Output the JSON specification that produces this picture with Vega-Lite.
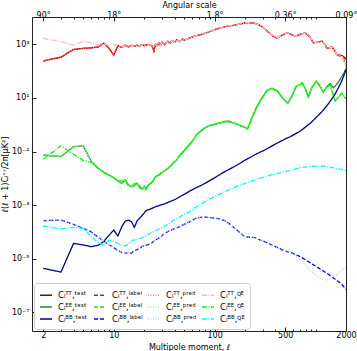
{
"$schema": "https://vega.github.io/schema/vega-lite/v6.json",
"width": 314, "height": 314,
"autosize": {"type": "none"},
"padding": {"left": 32, "top": 17, "right": 11, "bottom": 20},
"config": {
  "font": "DejaVu Sans",
  "view": {"stroke": "#222222", "strokeWidth": 1},
  "axis": {"labelFontSize": 8, "titleFontSize": 8, "titleFontWeight": "normal", "labelColor": "#000000", "titleColor": "#000000", "tickColor": "#222222", "domain": false, "grid": false, "labelOverlap": false, "labelFlush": false}
},
"resolve": {"axis": {"x": "independent"}},
"layer": [
{
  "data": {"values": [
    {"l":2,"TT test":240,"TT label":240,"TT pred":240,"TT QE":1660},
    {"l":3,"TT test":331,"TT label":331,"TT pred":331,"TT QE":1259},
    {"l":4,"TT test":646,"TT label":646,"TT pred":646,"TT QE":933},
    {"l":5,"TT test":708,"TT label":708,"TT pred":708,"TT QE":1318},
    {"l":6,"TT test":741,"TT label":741,"TT pred":741,"TT QE":1122},
    {"l":7,"TT test":794,"TT label":794,"TT pred":794,"TT QE":933},
    {"l":8,"TT test":1122,"TT label":1122,"TT pred":1122,"TT QE":1047},
    {"l":9,"TT test":708,"TT label":708,"TT pred":708,"TT QE":933},
    {"l":10,"TT test":398,"TT label":398,"TT pred":398,"TT QE":955},
    {"l":11,"TT test":891,"TT label":891,"TT pred":891,"TT QE":912},
    {"l":12,"TT test":776,"TT label":776,"TT pred":776,"TT QE":800},
    {"l":13,"TT test":933,"TT label":933,"TT pred":933,"TT QE":920},
    {"l":14,"TT test":813,"TT label":813,"TT pred":813,"TT QE":830},
    {"l":15,"TT test":912,"TT label":912,"TT pred":912,"TT QE":900},
    {"l":16,"TT test":851,"TT label":851,"TT pred":851,"TT QE":860},
    {"l":17,"TT test":933,"TT label":933,"TT pred":933,"TT QE":930},
    {"l":18,"TT test":851,"TT label":851,"TT pred":851,"TT QE":870},
    {"l":19,"TT test":977,"TT label":977,"TT pred":977,"TT QE":960},
    {"l":20,"TT test":891,"TT label":891,"TT pred":891,"TT QE":900},
    {"l":21,"TT test":955,"TT label":955,"TT pred":955,"TT QE":955},
    {"l":22,"TT test":912,"TT label":912,"TT pred":912,"TT QE":912},
    {"l":23,"TT test":977,"TT label":977,"TT pred":977,"TT QE":977},
    {"l":24,"TT test":851,"TT label":851,"TT pred":851,"TT QE":851},
    {"l":25,"TT test":562,"TT label":562,"TT pred":562,"TT QE":851},
    {"l":26,"TT test":1000,"TT label":1000,"TT pred":1000,"TT QE":1000},
    {"l":27,"TT test":871,"TT label":871,"TT pred":871,"TT QE":871},
    {"l":28,"TT test":1148,"TT label":1148,"TT pred":1148,"TT QE":1148},
    {"l":29,"TT test":912,"TT label":912,"TT pred":912,"TT QE":912},
    {"l":30,"TT test":1202,"TT label":1202,"TT pred":1202,"TT QE":1202},
    {"l":32,"TT test":977,"TT label":977,"TT pred":977,"TT QE":977},
    {"l":34,"TT test":1318,"TT label":1318,"TT pred":1318,"TT QE":1318},
    {"l":36,"TT test":1096,"TT label":1096,"TT pred":1096,"TT QE":1096},
    {"l":38,"TT test":1380,"TT label":1380,"TT pred":1380,"TT QE":1380},
    {"l":40,"TT test":1202,"TT label":1202,"TT pred":1202,"TT QE":1202},
    {"l":42,"TT test":1479,"TT label":1479,"TT pred":1479,"TT QE":1479},
    {"l":45,"TT test":1259,"TT label":1259,"TT pred":1259,"TT QE":1259},
    {"l":48,"TT test":1585,"TT label":1585,"TT pred":1585,"TT QE":1585},
    {"l":50,"TT test":1445,"TT label":1445,"TT pred":1445,"TT QE":1445},
    {"l":55,"TT test":1660,"TT label":1660,"TT pred":1660,"TT QE":1660},
    {"l":60,"TT test":1905,"TT label":1905,"TT pred":1905,"TT QE":1905},
    {"l":70,"TT test":2239,"TT label":2239,"TT pred":2239,"TT QE":2239},
    {"l":80,"TT test":2570,"TT label":2570,"TT pred":2570,"TT QE":2570},
    {"l":90,"TT test":3020,"TT label":3020,"TT pred":3020,"TT QE":3020},
    {"l":100,"TT test":3548,"TT label":3548,"TT pred":3548,"TT QE":3548},
    {"l":126,"TT test":4571,"TT label":4571,"TT pred":4571,"TT QE":4571},
    {"l":160,"TT test":5248,"TT label":5248,"TT pred":5248,"TT QE":5248},
    {"l":200,"TT test":6310,"TT label":6310,"TT pred":6310,"TT QE":6310},
    {"l":220,"TT test":6457,"TT label":6457,"TT pred":6457,"TT QE":6457},
    {"l":245,"TT test":6166,"TT label":6166,"TT pred":6166,"TT QE":6166},
    {"l":272,"TT test":5495,"TT label":5495,"TT pred":5495,"TT QE":5495},
    {"l":300,"TT test":4365,"TT label":4365,"TT pred":4365,"TT QE":4365},
    {"l":340,"TT test":2884,"TT label":2884,"TT pred":2884,"TT QE":2884},
    {"l":380,"TT test":1995,"TT label":1995,"TT pred":1995,"TT QE":1995},
    {"l":413,"TT test":1738,"TT label":1738,"TT pred":1738,"TT QE":1738},
    {"l":460,"TT test":2138,"TT label":2138,"TT pred":2138,"TT QE":2138},
    {"l":520,"TT test":2692,"TT label":2692,"TT pred":2692,"TT QE":2692},
    {"l":570,"TT test":2399,"TT label":2399,"TT pred":2399,"TT QE":2399},
    {"l":628,"TT test":1995,"TT label":1995,"TT pred":1995,"TT QE":1995},
    {"l":700,"TT test":2344,"TT label":2344,"TT pred":2344,"TT QE":2344},
    {"l":790,"TT test":2630,"TT label":2630,"TT pred":2630,"TT QE":2630},
    {"l":870,"TT test":1995,"TT label":1995,"TT pred":1995,"TT QE":1995},
    {"l":950,"TT test":1148,"TT label":1148,"TT pred":1148,"TT QE":1148},
    {"l":1050,"TT test":1202,"TT label":1202,"TT pred":1202,"TT QE":1202},
    {"l":1156,"TT test":1318,"TT label":1318,"TT pred":1318,"TT QE":1318},
    {"l":1230,"TT test":1000,"TT label":1000,"TT pred":1000,"TT QE":1000},
    {"l":1300,"TT test":708,"TT label":708,"TT pred":708,"TT QE":708},
    {"l":1380,"TT test":759,"TT label":759,"TT pred":759,"TT QE":759},
    {"l":1457,"TT test":794,"TT label":794,"TT pred":794,"TT QE":794},
    {"l":1550,"TT test":562,"TT label":562,"TT pred":562,"TT QE":562},
    {"l":1635,"TT test":389,"TT label":389,"TT pred":389,"TT QE":389},
    {"l":1730,"TT test":398,"TT label":372,"TT pred":372,"TT QE":372},
    {"l":1830,"TT test":380,"TT label":355,"TT pred":355,"TT QE":355},
    {"l":1920,"TT test":331,"TT label":263,"TT pred":224,"TT QE":240},
    {"l":2000,"TT test":282,"TT label":200,"TT pred":141,"TT QE":158}
  ]},
  "transform": [{"fold": ["TT test","TT label","TT pred","TT QE"], "as": ["series","value"]}],
  "mark": {"type": "line", "strokeWidth": 1.3, "clip": true},
  "encoding": {
    "x": {"field": "l", "type": "quantitative", "scale": {"type": "log", "domain": [1.55, 2000], "nice": false},
      "axis": {"orient": "bottom", "values": [2,3,4,5,6,7,8,9,10,20,30,40,50,60,70,80,90,100,200,300,400,500,600,700,800,900,1000,2000],
        "labelExpr": "indexof([2,10,100,500,2000], datum.value) >= 0 ? datum.value + '' : ''",
        "tickSize": {"condition": {"test": "indexof([2,10,100,500,2000], datum.value) >= 0", "value": -4}, "value": -2},
        "labelPadding": 4, "title": "Multipole moment, ℓ", "titlePadding": 2}},
    "y": {"field": "value", "type": "quantitative", "scale": {"type": "log", "domain": [2e-8, 10500], "nice": false},
      "axis": {"values": [1e-7, 1e-5, 0.001, 0.1, 10, 1000],
        "labelExpr": "datum.value > 100 ? '10³' : datum.value > 1 ? '10¹' : datum.value > 0.01 ? '10⁻¹' : datum.value > 0.0001 ? '10⁻³' : datum.value > 0.000001 ? '10⁻⁵' : '10⁻⁷'",
        "tickSize": -4, "labelPadding": 7, "title": "ℓ(ℓ + 1)Cₗˣʸ/2π[μK²]", "titlePadding": 2}},
    "color": {"field": "series", "type": "nominal",
      "scale": {"domain": ["TT test","EE test","BB test","TT label","EE label","BB label","TT pred","EE pred","BB pred","TT QE","EE QE","BB QE"],
        "range": ["#8b0000","#228b22","#00008b","#ff0000","#32cd32","#0000ff","#f08080","#98fb98","#add8e6","#ffb6c1","#00ff00","#00ffff"]},
      "legend": {"title": null, "orient": "bottom-left", "offset": 2, "columns": 4, "symbolType": "stroke", "symbolSize": 144, "symbolStrokeWidth": 1.5,
        "labelFontSize": 8.5, "labelOffset": 5, "rowPadding": 0, "columnPadding": 2, "padding": 5, "fillColor": "white", "strokeColor": "#cccccc", "cornerRadius": 3, "gridAlign": "all",
        "labelExpr": "'Cₗ' + (indexof(datum.label,'TT')==0 ? 'ᵀᵀ' : indexof(datum.label,'EE')==0 ? 'ᴱᴱ' : 'ᴮᴮ') + ',' + (indexof(datum.label,'test')>0 ? 'ᵗᵉˢᵗ' : indexof(datum.label,'label')>0 ? 'ˡᵃᵇᵉˡ' : indexof(datum.label,'pred')>0 ? 'ᵖʳᵉᵈ' : 'ꟴᴱ')"}},
    "strokeDash": {"field": "series", "type": "nominal",
      "scale": {"domain": ["TT test","EE test","BB test","TT label","EE label","BB label","TT pred","EE pred","BB pred","TT QE","EE QE","BB QE"],
        "range": [[1,0],[1,0],[1,0],[4,2],[4,2],[4,2],[1,1.5],[1,1.5],[1,1.5],[5,1.5,1,1.5],[5,1.5,1,1.5],[5,1.5,1,1.5]]}}
  }
},
{
  "data": {"values": [
    {"l":2,"EE test":0.0741,"EE label":0.0741,"EE pred":0.0741,"EE QE":0.0513},
    {"l":3,"EE test":0.0646,"EE label":0.0646,"EE pred":0.0646,"EE QE":0.162},
    {"l":4,"EE test":0.151,"EE label":0.151,"EE pred":0.151,"EE QE":0.0794},
    {"l":5,"EE test":0.162,"EE label":0.162,"EE pred":0.162,"EE QE":0.0457},
    {"l":6,"EE test":0.0417,"EE label":0.0417,"EE pred":0.0417,"EE QE":0.0398},
    {"l":7,"EE test":0.024,"EE label":0.024,"EE pred":0.024,"EE QE":0.024},
    {"l":8,"EE test":0.0166,"EE label":0.0166,"EE pred":0.0166,"EE QE":0.0166},
    {"l":9,"EE test":0.0132,"EE label":0.0132,"EE pred":0.0132,"EE QE":0.0132},
    {"l":10,"EE test":0.0105,"EE label":0.0105,"EE pred":0.0105,"EE QE":0.0105},
    {"l":11,"EE test":0.00794,"EE label":0.00794,"EE pred":0.00794,"EE QE":0.00794},
    {"l":12,"EE test":0.00646,"EE label":0.00646,"EE pred":0.00646,"EE QE":0.00794},
    {"l":13,"EE test":0.00871,"EE label":0.00871,"EE pred":0.00871,"EE QE":0.00871},
    {"l":14,"EE test":0.00562,"EE label":0.00562,"EE pred":0.00562,"EE QE":0.00501},
    {"l":15,"EE test":0.0049,"EE label":0.0049,"EE pred":0.0049,"EE QE":0.0049},
    {"l":16,"EE test":0.00631,"EE label":0.00631,"EE pred":0.00631,"EE QE":0.00525},
    {"l":17,"EE test":0.00646,"EE label":0.00646,"EE pred":0.00646,"EE QE":0.00646},
    {"l":18,"EE test":0.00447,"EE label":0.00447,"EE pred":0.00447,"EE QE":0.00562},
    {"l":19,"EE test":0.00389,"EE label":0.00389,"EE pred":0.00389,"EE QE":0.00389},
    {"l":20,"EE test":0.00501,"EE label":0.00501,"EE pred":0.00501,"EE QE":0.00398},
    {"l":21,"EE test":0.0038,"EE label":0.0038,"EE pred":0.0038,"EE QE":0.00447},
    {"l":22,"EE test":0.00562,"EE label":0.00562,"EE pred":0.00562,"EE QE":0.00562},
    {"l":24,"EE test":0.00708,"EE label":0.00708,"EE pred":0.00708,"EE QE":0.00708},
    {"l":26,"EE test":0.0115,"EE label":0.0115,"EE pred":0.0115,"EE QE":0.0115},
    {"l":28,"EE test":0.0132,"EE label":0.0132,"EE pred":0.0132,"EE QE":0.0132},
    {"l":30,"EE test":0.0166,"EE label":0.0166,"EE pred":0.0166,"EE QE":0.0166},
    {"l":33,"EE test":0.0209,"EE label":0.0209,"EE pred":0.0209,"EE QE":0.0209},
    {"l":36,"EE test":0.0269,"EE label":0.0269,"EE pred":0.0269,"EE QE":0.0269},
    {"l":39,"EE test":0.038,"EE label":0.038,"EE pred":0.038,"EE QE":0.038},
    {"l":42,"EE test":0.0479,"EE label":0.0479,"EE pred":0.0479,"EE QE":0.0479},
    {"l":45,"EE test":0.0708,"EE label":0.0708,"EE pred":0.0708,"EE QE":0.0708},
    {"l":49,"EE test":0.1,"EE label":0.1,"EE pred":0.1,"EE QE":0.1},
    {"l":53,"EE test":0.141,"EE label":0.141,"EE pred":0.141,"EE QE":0.141},
    {"l":57,"EE test":0.191,"EE label":0.191,"EE pred":0.191,"EE QE":0.191},
    {"l":62,"EE test":0.282,"EE label":0.282,"EE pred":0.282,"EE QE":0.282},
    {"l":66,"EE test":0.417,"EE label":0.417,"EE pred":0.417,"EE QE":0.417},
    {"l":72,"EE test":0.562,"EE label":0.562,"EE pred":0.562,"EE QE":0.562},
    {"l":80,"EE test":0.759,"EE label":0.759,"EE pred":0.759,"EE QE":0.759},
    {"l":90,"EE test":0.933,"EE label":0.933,"EE pred":0.933,"EE QE":0.933},
    {"l":100,"EE test":1.047,"EE label":1.047,"EE pred":1.047,"EE QE":1.047},
    {"l":115,"EE test":1.202,"EE label":1.202,"EE pred":1.202,"EE QE":1.202},
    {"l":126,"EE test":1.318,"EE label":1.318,"EE pred":1.318,"EE QE":1.318},
    {"l":140,"EE test":1.318,"EE label":1.318,"EE pred":1.318,"EE QE":1.318},
    {"l":159,"EE test":1.122,"EE label":1.122,"EE pred":1.122,"EE QE":1.122},
    {"l":180,"EE test":0.933,"EE label":0.933,"EE pred":0.933,"EE QE":0.933},
    {"l":200,"EE test":0.794,"EE label":0.794,"EE pred":0.794,"EE QE":0.794},
    {"l":212,"EE test":0.708,"EE label":0.708,"EE pred":0.708,"EE QE":0.708},
    {"l":233,"EE test":1.738,"EE label":1.738,"EE pred":1.738,"EE QE":1.738},
    {"l":260,"EE test":4.467,"EE label":4.467,"EE pred":4.467,"EE QE":4.467},
    {"l":294,"EE test":9.77,"EE label":9.77,"EE pred":9.77,"EE QE":9.77},
    {"l":330,"EE test":19.05,"EE label":19.05,"EE pred":19.05,"EE QE":19.05},
    {"l":370,"EE test":22.9,"EE label":22.9,"EE pred":22.9,"EE QE":22.9},
    {"l":420,"EE test":17.8,"EE label":17.8,"EE pred":17.8,"EE QE":17.8},
    {"l":470,"EE test":10.0,"EE label":10.0,"EE pred":10.0,"EE QE":10.0},
    {"l":530,"EE test":6.31,"EE label":6.31,"EE pred":6.31,"EE QE":6.31},
    {"l":580,"EE test":11.2,"EE label":11.2,"EE pred":11.2,"EE QE":11.2},
    {"l":640,"EE test":26.3,"EE label":26.3,"EE pred":26.3,"EE QE":26.3},
    {"l":738,"EE test":36.3,"EE label":36.3,"EE pred":36.3,"EE QE":36.3},
    {"l":790,"EE test":22.4,"EE label":22.4,"EE pred":22.4,"EE QE":22.4},
    {"l":846,"EE test":11.0,"EE label":11.0,"EE pred":11.0,"EE QE":11.0},
    {"l":920,"EE test":25.1,"EE label":25.1,"EE pred":25.1,"EE QE":25.1},
    {"l":1015,"EE test":41.7,"EE label":41.7,"EE pred":41.7,"EE QE":41.7},
    {"l":1100,"EE test":28.2,"EE label":28.2,"EE pred":28.2,"EE QE":28.2},
    {"l":1191,"EE test":16.6,"EE label":16.6,"EE pred":16.6,"EE QE":16.6},
    {"l":1290,"EE test":26.3,"EE label":25.1,"EE pred":25.1,"EE QE":25.1},
    {"l":1396,"EE test":34.7,"EE label":30.2,"EE pred":30.2,"EE QE":30.2},
    {"l":1500,"EE test":24.0,"EE label":12.6,"EE pred":12.6,"EE QE":12.6},
    {"l":1570,"EE test":28.2,"EE label":7.59,"EE pred":7.59,"EE QE":7.59},
    {"l":1700,"EE test":41.7,"EE label":11.2,"EE pred":11.2,"EE QE":11.2},
    {"l":1830,"EE test":66.1,"EE label":14.8,"EE pred":14.8,"EE QE":14.8},
    {"l":1920,"EE test":89.1,"EE label":11.2,"EE pred":11.2,"EE QE":11.2},
    {"l":2000,"EE test":126,"EE label":9.33,"EE pred":9.33,"EE QE":9.33}
  ]},
  "transform": [{"fold": ["EE test","EE label","EE pred","EE QE"], "as": ["series","value"]}],
  "mark": {"type": "line", "strokeWidth": 1.3, "clip": true},
  "encoding": {
    "x": {"field": "l", "type": "quantitative",
      "axis": {"orient": "top", "values": [2,3,4,5,6,7,8,9,10,20,30,40,50,60,70,80,90,100,200,300,400,500,600,700,800,900,1000,2000],
        "labelExpr": "indexof([2,10,100,500,2000], datum.value) >= 0 ? (180 / datum.value) + '°' : ''",
        "tickSize": {"condition": {"test": "indexof([2,10,100,500,2000], datum.value) >= 0", "value": -4}, "value": -2},
        "labelPadding": 2, "title": "Angular scale", "titlePadding": 0}},
    "y": {"field": "value", "type": "quantitative"},
    "color": {"field": "series", "type": "nominal"},
    "strokeDash": {"field": "series", "type": "nominal"}
  }
},
{
  "data": {"values": [
    {"l":2,"BB test":4.37e-6,"BB label":2.63e-4,"BB pred":2.63e-4,"BB QE":1.66e-4},
    {"l":3,"BB test":3.16e-6,"BB label":2.75e-4,"BB pred":2.75e-4,"BB QE":1.29e-4},
    {"l":4,"BB test":3.72e-5,"BB label":1.905e-4,"BB pred":1.905e-4,"BB QE":1.48e-4},
    {"l":5,"BB test":3.24e-5,"BB label":1.35e-4,"BB pred":1.35e-4,"BB QE":1.35e-4},
    {"l":6,"BB test":2.82e-5,"BB label":1.0e-4,"BB pred":1.0e-4,"BB QE":6.61e-5},
    {"l":7,"BB test":3.16e-5,"BB label":6.31e-5,"BB pred":6.31e-5,"BB QE":3.98e-5},
    {"l":8,"BB test":4.47e-5,"BB label":4.47e-5,"BB pred":4.47e-5,"BB QE":3.24e-5},
    {"l":9,"BB test":7.59e-5,"BB label":3.24e-5,"BB pred":3.24e-5,"BB QE":5.01e-5},
    {"l":10,"BB test":1.17e-4,"BB label":2.63e-5,"BB pred":2.63e-5,"BB QE":4.47e-5},
    {"l":11,"BB test":7.08e-5,"BB label":2.0e-5,"BB pred":2.0e-5,"BB QE":3.72e-5},
    {"l":12,"BB test":1.55e-4,"BB label":1.74e-5,"BB pred":1.74e-5,"BB QE":3.31e-5},
    {"l":13,"BB test":2.51e-4,"BB label":1.585e-5,"BB pred":1.585e-5,"BB QE":2.95e-5},
    {"l":14,"BB test":2.75e-4,"BB label":1.74e-5,"BB pred":1.74e-5,"BB QE":3.55e-5},
    {"l":15,"BB test":2.4e-4,"BB label":1.585e-5,"BB pred":1.585e-5,"BB QE":4.47e-5},
    {"l":16,"BB test":1.48e-4,"BB label":2.0e-5,"BB pred":2.0e-5,"BB QE":5.01e-5},
    {"l":17,"BB test":2.51e-4,"BB label":2.19e-5,"BB pred":2.19e-5,"BB QE":5.25e-5},
    {"l":18,"BB test":3.24e-4,"BB label":2.34e-5,"BB pred":2.34e-5,"BB QE":5.62e-5},
    {"l":19,"BB test":3.98e-4,"BB label":2.82e-5,"BB pred":2.82e-5,"BB QE":6.03e-5},
    {"l":20,"BB test":5.01e-4,"BB label":3.02e-5,"BB pred":3.02e-5,"BB QE":6.61e-5},
    {"l":21,"BB test":6.31e-4,"BB label":3.16e-5,"BB pred":3.16e-5,"BB QE":7.08e-5},
    {"l":23,"BB test":7.08e-4,"BB label":3.55e-5,"BB pred":3.55e-5,"BB QE":8.91e-5},
    {"l":26,"BB test":8.71e-4,"BB label":5.01e-5,"BB pred":5.01e-5,"BB QE":1.12e-4},
    {"l":29,"BB test":1.0e-3,"BB label":6.31e-5,"BB pred":6.31e-5,"BB QE":1.32e-4},
    {"l":32,"BB test":1.12e-3,"BB label":8.91e-5,"BB pred":8.91e-5,"BB QE":1.585e-4},
    {"l":36,"BB test":1.35e-3,"BB label":1.12e-4,"BB pred":1.12e-4,"BB QE":2.24e-4},
    {"l":40,"BB test":1.585e-3,"BB label":1.32e-4,"BB pred":1.32e-4,"BB QE":2.82e-4},
    {"l":45,"BB test":2.04e-3,"BB label":1.585e-4,"BB pred":1.585e-4,"BB QE":3.55e-4},
    {"l":51,"BB test":2.63e-3,"BB label":2.0e-4,"BB pred":2.0e-4,"BB QE":4.9e-4},
    {"l":57,"BB test":3.39e-3,"BB label":2.4e-4,"BB pred":2.4e-4,"BB QE":5.62e-4},
    {"l":64,"BB test":4.27e-3,"BB label":3.16e-4,"BB pred":3.16e-4,"BB QE":7.94e-4},
    {"l":72,"BB test":5.25e-3,"BB label":3.47e-4,"BB pred":3.47e-4,"BB QE":1.047e-3},
    {"l":80,"BB test":6.46e-3,"BB label":3.55e-4,"BB pred":3.55e-4,"BB QE":1.35e-3},
    {"l":90,"BB test":8.32e-3,"BB label":3.39e-4,"BB pred":3.39e-4,"BB QE":1.7e-3},
    {"l":100,"BB test":0.0105,"BB label":3.24e-4,"BB pred":3.24e-4,"BB QE":2.09e-3},
    {"l":115,"BB test":0.0145,"BB label":3.02e-4,"BB pred":3.02e-4,"BB QE":2.69e-3},
    {"l":126,"BB test":0.0178,"BB label":2.63e-4,"BB pred":2.63e-4,"BB QE":3.16e-3},
    {"l":140,"BB test":0.0219,"BB label":2.0e-4,"BB pred":2.0e-4,"BB QE":3.8e-3},
    {"l":159,"BB test":0.0282,"BB label":1.35e-4,"BB pred":1.35e-4,"BB QE":4.68e-3},
    {"l":180,"BB test":0.0372,"BB label":8.91e-5,"BB pred":8.91e-5,"BB QE":5.62e-3},
    {"l":200,"BB test":0.0479,"BB label":6.61e-5,"BB pred":6.61e-5,"BB QE":6.46e-3},
    {"l":225,"BB test":0.0603,"BB label":6.31e-5,"BB pred":6.31e-5,"BB QE":7.59e-3},
    {"l":250,"BB test":0.0759,"BB label":6.17e-5,"BB pred":6.17e-5,"BB QE":8.71e-3},
    {"l":280,"BB test":0.0933,"BB label":5.01e-5,"BB pred":5.01e-5,"BB QE":0.01},
    {"l":315,"BB test":0.115,"BB label":4.27e-5,"BB pred":4.27e-5,"BB QE":0.0115},
    {"l":400,"BB test":0.191,"BB label":2.82e-5,"BB pred":2.82e-5,"BB QE":0.0145},
    {"l":500,"BB test":0.295,"BB label":1.905e-5,"BB pred":1.905e-5,"BB QE":0.0178},
    {"l":560,"BB test":0.355,"BB label":1.74e-5,"BB pred":1.74e-5,"BB QE":0.0195},
    {"l":710,"BB test":0.589,"BB label":1.175e-5,"BB pred":9.55e-6,"BB QE":0.0251},
    {"l":900,"BB test":1.2,"BB label":6.76e-6,"BB pred":3.24e-6,"BB QE":0.0282},
    {"l":1150,"BB test":3.02,"BB label":3.8e-6,"BB pred":1.7e-6,"BB QE":0.0288},
    {"l":1300,"BB test":5.25,"BB label":2.82e-6,"BB pred":1.585e-6,"BB QE":0.0275},
    {"l":1440,"BB test":8.91,"BB label":2.14e-6,"BB pred":1.82e-6,"BB QE":0.0257},
    {"l":1550,"BB test":13.5,"BB label":1.74e-6,"BB pred":2.14e-6,"BB QE":0.024},
    {"l":1650,"BB test":20.9,"BB label":1.48e-6,"BB pred":2.63e-6,"BB QE":0.0229},
    {"l":1800,"BB test":39.8,"BB label":1.15e-6,"BB pred":3.55e-6,"BB QE":0.0214},
    {"l":2000,"BB test":112,"BB label":7.24e-7,"BB pred":5.01e-6,"BB QE":0.0191}
  ]},
  "transform": [{"fold": ["BB test","BB label","BB pred","BB QE"], "as": ["series","value"]}],
  "mark": {"type": "line", "strokeWidth": 1.3, "clip": true},
  "encoding": {
    "x": {"field": "l", "type": "quantitative", "axis": null},
    "y": {"field": "value", "type": "quantitative"},
    "color": {"field": "series", "type": "nominal"},
    "strokeDash": {"field": "series", "type": "nominal"}
  }
}
]
}
